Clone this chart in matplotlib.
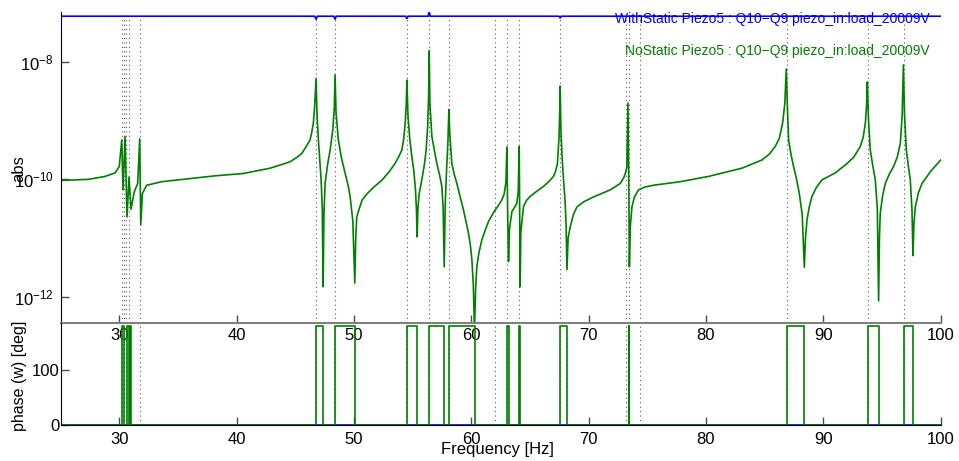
#!/usr/bin/env python
# -*- coding: utf-8 -*-

import numpy as np
import matplotlib
matplotlib.use('Agg')
import matplotlib.pyplot as plt

plt.rcParams['font.family'] = ['Liberation Sans', 'DejaVu Sans']
plt.rcParams['mathtext.fontset'] = 'custom'
plt.rcParams['mathtext.rm'] = 'Liberation Sans'
plt.rcParams['mathtext.it'] = 'Liberation Sans:italic'
plt.rcParams['mathtext.bf'] = 'Liberation Sans:bold'

# magnitude, NoStatic (green): frequency [Hz] and log10(abs)
nostatic_f = [25.0, 27.36, 28.79, 29.64, 30.00, 30.21, 30.32, 30.49, 30.66, 30.83,
              31.00, 31.28, 31.57, 31.74, 31.83, 31.97, 32.34, 33.62, 35.89, 38.16,
              40.58, 42.85, 43.80, 44.55, 45.10, 45.55, 45.90, 46.26, 46.40, 46.54,
              46.65, 46.77, 46.85, 46.97, 47.10, 47.20, 47.30, 47.37, 47.44, 47.54,
              47.75, 47.97, 48.20, 48.32, 48.39, 48.47, 48.67, 48.95, 49.25, 49.50,
              49.67, 49.90, 50.07, 50.15, 50.24, 50.45, 50.70, 51.10, 51.70, 52.40,
              53.00, 53.50, 53.85, 54.08, 54.25, 54.38, 54.46, 54.51, 54.60, 54.75,
              54.93, 55.10, 55.25, 55.33, 55.38, 55.45, 55.55, 55.78, 56.00, 56.15,
              56.28, 56.36, 56.41, 56.47, 56.64, 56.85, 57.06, 57.30, 57.49, 57.60,
              57.69, 57.78, 57.90, 58.00, 58.09, 58.16, 58.34, 58.55, 58.77, 59.05,
              59.33, 59.55, 59.76, 59.92, 60.05, 60.17, 60.27, 60.37, 60.47, 60.65,
              60.90, 61.20, 61.46, 61.97, 62.30, 62.60, 62.80, 62.95, 63.03, 63.10,
              63.17, 63.25, 63.46, 63.88, 64.00, 64.08, 64.12, 64.16, 64.22, 64.45,
              64.70, 65.02, 65.60, 66.15, 66.60, 67.00, 67.20, 67.34, 67.47, 67.53,
              67.57, 67.64, 67.76, 67.86, 68.00, 68.08, 68.15, 68.25, 68.43, 68.70,
              69.00, 69.60, 70.41, 71.84, 72.69, 73.00, 73.12, 73.25, 73.35, 73.42,
              73.47, 73.55, 73.69, 73.90, 74.25, 74.80, 75.53, 77.80, 80.22, 83.06,
              84.77, 85.40, 85.90, 86.25, 86.53, 86.72, 86.84, 86.94, 87.04, 87.25,
              87.46, 87.70, 87.95, 88.20, 88.38, 88.48, 88.61, 88.80, 89.03, 89.40,
              89.88, 91.02, 92.02, 92.60, 93.15, 93.40, 93.58, 93.68, 93.75, 93.85,
              94.00, 94.20, 94.43, 94.60, 94.71, 94.78, 94.85, 95.05, 95.28, 95.60,
              95.99, 96.30, 96.56, 96.72, 96.82, 96.92, 97.07, 97.25, 97.41, 97.55,
              97.64, 97.72, 97.84, 98.10, 98.41, 99.12, 100.0]
nostatic_log = [-10.02, -10.00, -9.95, -9.89, -9.78, -9.33, -10.18, -9.27, -10.64, -9.96,
                -10.51, -10.21, -10.07, -9.31, -10.77, -10.24, -10.10, -10.04, -9.99, -9.94,
                -9.90, -9.81, -9.75, -9.70, -9.63, -9.56, -9.45, -9.33, -9.20, -9.04,
                -8.75, -8.28, -8.90, -9.33, -9.70, -10.01, -10.50, -11.83, -10.60, -10.07,
                -9.75, -9.50, -9.15, -8.80, -8.22, -8.85, -9.33, -9.65, -9.90, -10.10,
                -10.29, -10.70, -11.77, -11.00, -10.64, -10.50, -10.35, -10.25, -10.13, -10.01,
                -9.87, -9.73, -9.60, -9.50, -9.30, -9.00, -8.70, -8.31, -8.90, -9.30,
                -9.61, -9.85, -10.20, -10.55, -10.98, -10.50, -10.25, -10.01, -9.75, -9.50,
                -9.10, -8.60, -7.81, -8.70, -9.27, -9.50, -9.73, -9.93, -10.12, -10.50,
                -11.49, -10.40, -9.80, -9.40, -8.81, -9.20, -9.73, -9.92, -10.07, -10.30,
                -10.52, -10.72, -10.92, -11.12, -11.37, -11.80, -12.57, -11.85, -11.49, -11.25,
                -11.03, -10.86, -10.72, -10.54, -10.45, -10.35, -10.25, -10.05, -9.45, -10.60,
                -11.40, -10.85, -10.55, -10.41, -10.20, -9.44, -10.50, -11.83, -10.90, -10.46,
                -10.36, -10.29, -10.20, -10.12, -10.04, -9.95, -9.85, -9.73, -9.30, -8.90,
                -8.41, -9.20, -9.70, -10.01, -10.40, -10.80, -11.54, -11.00, -10.81, -10.60,
                -10.47, -10.38, -10.30, -10.18, -10.07, -9.97, -9.90, -9.80, -8.70, -10.00,
                -11.49, -10.80, -10.47, -10.30, -10.18, -10.13, -10.10, -10.04, -9.95, -9.81,
                -9.67, -9.57, -9.44, -9.30, -9.04, -8.70, -8.12, -8.80, -9.33, -9.58,
                -9.78, -9.98, -10.24, -10.60, -11.50, -11.00, -10.69, -10.47, -10.29, -10.14,
                -10.01, -9.89, -9.73, -9.62, -9.44, -9.28, -9.04, -8.75, -8.34, -9.00,
                -9.50, -9.75, -10.01, -10.50, -12.07, -11.00, -10.58, -10.28, -10.07, -9.92,
                -9.78, -9.62, -9.39, -8.90, -8.05, -8.90, -9.50, -9.78, -10.01, -10.50,
                -11.30, -10.75, -10.47, -10.23, -10.07, -9.87, -9.67]

# magnitude, WithStatic (blue)
withstatic_f = [25.0, 46.65, 46.77, 46.90, 48.28, 48.39, 48.50, 54.40, 54.51, 54.62,
                56.32, 56.41, 56.50, 67.47, 67.57, 67.68, 100.0]
withstatic_log = [-7.22, -7.22, -7.27, -7.22, -7.22, -7.27, -7.22, -7.22, -7.26, -7.22,
                  -7.22, -7.14, -7.22, -7.22, -7.25, -7.22, -7.22]

# phase (NoStatic): intervals where the phase sits at 180 deg
phase_on = [30.21, 30.63, 30.95, 46.75, 48.37, 54.53, 56.41, 58.11, 63.03, 64.08,
            67.58, 73.40, 86.90, 93.81, 96.88]
phase_off = [30.40, 30.86, 31.00, 47.35, 50.10, 55.41, 57.69, 60.30, 63.17, 64.16,
             68.13, 73.47, 88.35, 94.71, 97.64]

# mode frequencies (dotted markers)
modes = [30.21, 30.40, 30.58, 30.85, 31.77, 46.75, 48.39, 54.50, 56.41, 58.11,
         62.03, 63.03, 64.08, 67.58, 73.20, 73.40, 74.39, 86.89, 93.80, 96.84]

xticks = [30, 40, 50, 60, 70, 80, 90, 100]

label_with = 'WithStatic Piezo5 : Q10\u2212Q9 piezo_in:load_20009V'
label_no = 'NoStatic Piezo5 : Q10\u2212Q9 piezo_in:load_20009V'

blue = '#0000ff'
green = '#008000'


def main():
	fig = plt.figure(figsize=(9.59, 4.61), dpi=100)
	ax1 = fig.add_axes([0.0632, 0.3000, 0.9177, 0.6750])
	ax2 = fig.add_axes([0.0632, 0.0774, 0.9177, 0.2226])

	# magnitude
	ax1.plot(withstatic_f, 10.0 ** np.array(withstatic_log), color=blue, lw=1.2)
	ax1.plot(nostatic_f, 10.0 ** np.array(nostatic_log), color=green, lw=1.2)
	ax1.set_yscale('log')
	ax1.set_xlim(25, 100)
	ax1.set_ylim(10 ** -12.443, 10 ** -7.14)
	ax1.set_yticks([1e-12, 1e-10, 1e-8])
	ax1.minorticks_off()
	ax1.set_xticks(xticks)

	# phase
	pf = [25.0]
	pp = [0.0]
	for a, b in zip(phase_on, phase_off):
		pf += [a, a, b, b]
		pp += [0, 180, 180, 0]
	pf.append(100.0)
	pp.append(0.0)
	ax2.plot([25, 100], [0, 0], color=blue, lw=1.2)
	ax2.plot(pf, pp, color=green, lw=1.2)
	ax2.set_xlim(25, 100)
	ax2.set_ylim(0, 185.5)
	ax2.set_yticks([0, 100])
	ax2.set_xticks(xticks)

	for ax in (ax1, ax2):
		for m in modes:
			ax.axvline(m, color='0.35', lw=0.8, ls=(0, (1, 3)), zorder=0)
		ax.spines['top'].set_visible(False)
		ax.spines['right'].set_visible(False)
		ax.tick_params(direction='in', length=6, width=1, color='0.3', labelsize=12)
		ax.patch.set_alpha(0)
	ax1.spines['bottom'].set_color('0.5')
	ax1.spines['bottom'].set_linewidth(1.5)
	ax1.tick_params(axis='x', pad=4)
	ax1.tick_params(axis='y', pad=5)
	ax2.tick_params(axis='y', pad=1)
	ax2.tick_params(axis='x', pad=5)

	fig.text(0.020, 0.635, 'abs', rotation=90, ha='center', va='center', fontsize=12)
	fig.text(0.020, 0.185, 'phase (w) [deg]', rotation=90, ha='center', va='center', fontsize=11.5)
	fig.text(0.519, 0.024, 'Frequency [Hz]', ha='center', va='center', fontsize=12)

	fig.text(930 / 959.0, 1 - 19 / 461.0, label_with, color=blue, ha='right', va='center', fontsize=10)
	fig.text(930 / 959.0, 1 - 51 / 461.0, label_no, color=green, ha='right', va='center', fontsize=10)

	fig.savefig('out.png', dpi=100)


if __name__ == '__main__':
	main()
